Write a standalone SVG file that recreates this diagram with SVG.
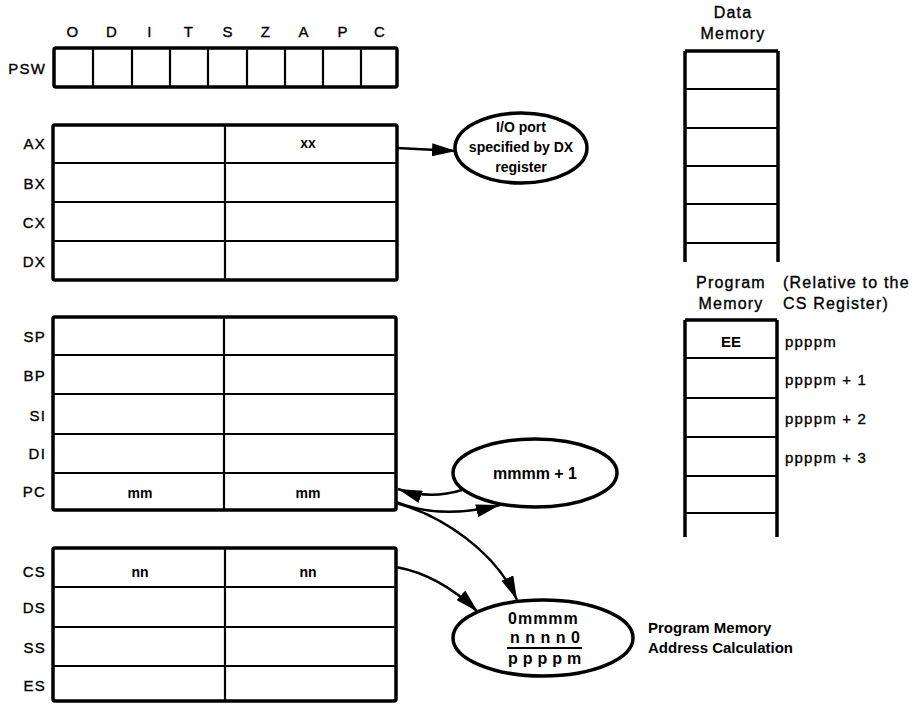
<svg xmlns="http://www.w3.org/2000/svg" width="921" height="704" viewBox="0 0 921 704">
<defs>
<style>
.t{font-family:"Liberation Sans",Arial,sans-serif;font-size:15px;fill:#000;stroke:#000;stroke-width:0.35px;letter-spacing:1.2px}
.b{font-family:"Liberation Sans",Arial,sans-serif;font-size:14px;font-weight:bold;fill:#000}
.box{fill:#fff;stroke:#000;stroke-width:3.5}
.ln{stroke:#000;stroke-width:2.2;fill:none}
.vl{stroke:#000;stroke-width:3.5;fill:none}
.el{fill:#fff;stroke:#000;stroke-width:3.5}
.cn{stroke:#000;stroke-width:2.5;fill:none;marker-end:url(#ah)}
</style>
<marker id="ah" markerUnits="userSpaceOnUse" markerWidth="24" markerHeight="13" refX="24" refY="6.5" orient="auto">
<path d="M0,0 L24,6.5 L0,13 z" fill="#000"/>
</marker>
</defs>
<rect width="921" height="704" fill="#fff"/>

<g id="psw">
<g class="t" text-anchor="middle">
<text x="73" y="37">O</text><text x="112" y="37">D</text><text x="150" y="37">I</text><text x="189" y="37">T</text><text x="228" y="37">S</text><text x="266" y="37">Z</text><text x="304" y="37">A</text><text x="343" y="37">P</text><text x="380" y="37">C</text>
</g>
<text class="t" x="46" y="74" text-anchor="end">PSW</text>
<rect class="box" x="54" y="48" width="343" height="39" rx="2"/>
<path class="ln" d="M93,48V87M132,48V87M170,48V87M208,48V87M247,48V87M285,48V87M323,48V87M361,48V87"/>
</g>

<g id="general-regs">
<rect class="box" x="53" y="125" width="344" height="155" rx="2"/>
<path class="ln" d="M53,163H397M53,202H397M53,241H397M225,125V280"/>
<g class="t" text-anchor="end">
<text x="46" y="149">AX</text><text x="46" y="189">BX</text><text x="46" y="228">CX</text><text x="46" y="267">DX</text>
</g>
<text class="b" x="308" y="148" text-anchor="middle">xx</text>
</g>

<g id="pointer-regs">
<rect class="box" x="53" y="317" width="343" height="193" rx="2"/>
<path class="ln" d="M53,355H396M53,394H396M53,434H396M53,473H396M224,317V510"/>
<g class="t" text-anchor="end">
<text x="46" y="342">SP</text><text x="46" y="381">BP</text><text x="46" y="421">SI</text><text x="46" y="459">DI</text><text x="46" y="497">PC</text>
</g>
<text class="b" x="140" y="498" text-anchor="middle">mm</text>
<text class="b" x="308" y="498" text-anchor="middle">mm</text>
</g>

<g id="segment-regs">
<rect class="box" x="53" y="548" width="343" height="153" rx="2"/>
<path class="ln" d="M53,587H396M53,627H396M53,666H396M225,548V701"/>
<g class="t" text-anchor="end">
<text x="46" y="577">CS</text><text x="46" y="613">DS</text><text x="46" y="653">SS</text><text x="46" y="691">ES</text>
</g>
<text class="b" x="140" y="577" text-anchor="middle">nn</text>
<text class="b" x="308" y="577" text-anchor="middle">nn</text>
</g>

<g id="io-port">
<ellipse class="el" cx="521" cy="148" rx="66" ry="35"/>
<g class="b" text-anchor="middle">
<text x="521" y="132">I/O port</text><text x="521" y="152">specified by DX</text><text x="521" y="172">register</text>
</g>
</g>

<g id="pc-increment">
<ellipse class="el" cx="535" cy="473" rx="82" ry="34"/>
<text class="b" x="535" y="479" text-anchor="middle" style="font-size:16px">mmmm + 1</text>
</g>

<g id="address-calc">
<ellipse class="el" cx="543" cy="638" rx="90" ry="38"/>
<g class="b" style="font-size:16px">
<text x="508" y="624" style="letter-spacing:1px">0mmmm</text>
<text x="510" y="643" style="letter-spacing:5.5px">nnnn0</text>
<text x="508" y="664" style="letter-spacing:5px">ppppm</text>
</g>
<path class="ln" d="M507,648H582"/>
</g>
<g id="calc-label" class="b" style="font-size:15px">
<text x="648" y="633">Program Memory</text>
<text x="648" y="653">Address Calculation</text>
</g>

<g id="data-memory">
<g class="t" text-anchor="middle" style="font-size:16px">
<text x="733" y="18">Data</text><text x="733" y="39">Memory</text>
</g>
<path class="vl" d="M685,51V262M778,51V262M685,51H778"/>
<path class="ln" d="M685,89H778M685,128H778M685,166H778M685,204H778M685,243H778"/>
</g>

<g id="program-memory">
<g class="t" style="font-size:16px">
<text x="731" y="288" text-anchor="middle">Program</text><text x="731" y="309" text-anchor="middle">Memory</text>
<text x="783" y="288">(Relative to the</text><text x="783" y="309">CS Register)</text>
</g>
<path class="vl" d="M685,320V537M777,320V537M685,320H777"/>
<path class="ln" d="M685,358H777M685,398H777M685,437H777M685,476H777M685,513H777"/>
<text class="b" x="731" y="347" text-anchor="middle" style="font-size:15px">EE</text>
<g class="t">
<text x="785" y="347">ppppm</text><text x="785" y="385">ppppm + 1</text><text x="785" y="424">ppppm + 2</text><text x="785" y="463">ppppm + 3</text>
</g>
</g>

<g id="connectors">
<path class="cn" d="M397,148 L456,151"/>
<path class="cn" d="M462,490 Q430,500 398,489"/>
<path class="cn" d="M396,502 Q440,520 500,505"/>
<path class="cn" d="M396,503 C440,515 495,550 517,600"/>
<path class="cn" d="M396,567 Q440,575 478,612"/>
</g>
</svg>
